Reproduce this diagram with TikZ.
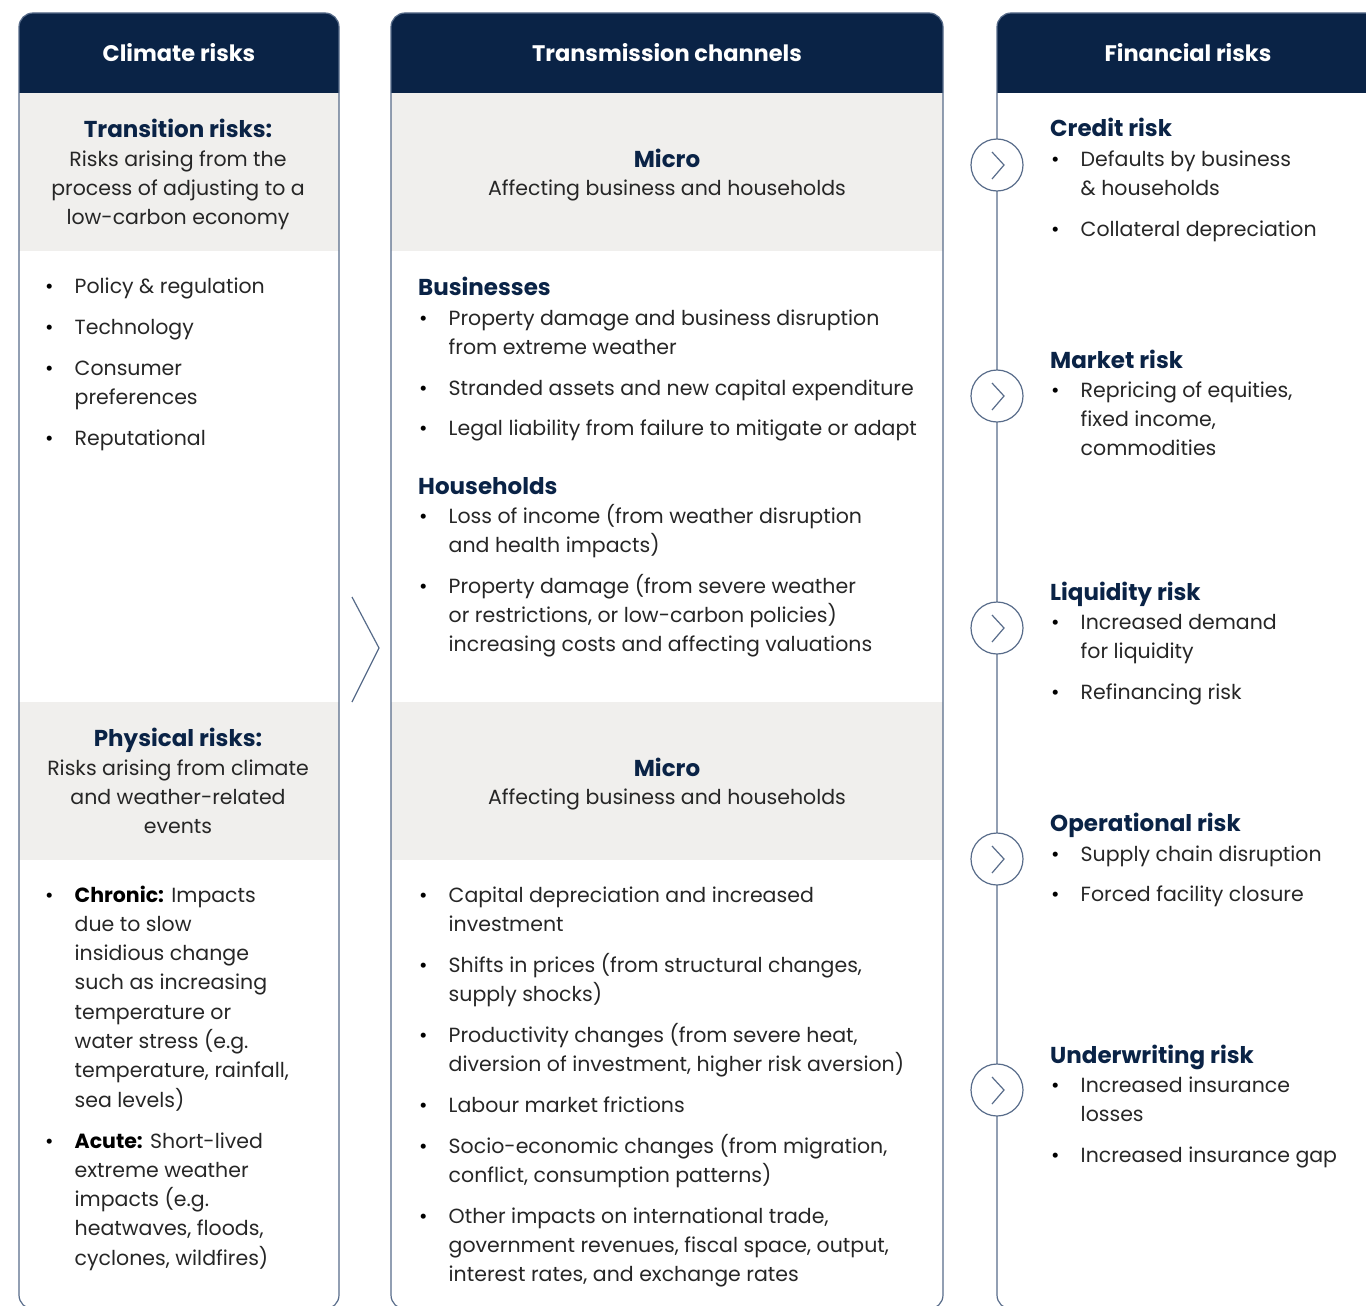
\documentclass[tikz,border=0pt]{standalone}
\usepackage{fontspec}
\setmainfont{Poppins}
\definecolor{navy}{RGB}{10,35,70}
\definecolor{edge}{RGB}{88,108,138}
\definecolor{band}{RGB}{240,239,237}
\definecolor{ink}{RGB}{38,38,38}
\newcommand\bodyfont{\fontsize{20.5}{29.3}\selectfont}
\newcommand\ttlfont{\fontsize{23}{28}\selectfont\bfseries}
\newcommand\hdrfont{\fontsize{22.5}{28}\selectfont\bfseries}
% multi-line blocks whose baseline is that of their first line
\newcommand\leftlines[1]{\parbox[t]{640pt}{\raggedright #1}}
\newcommand\midlines[1]{\parbox[t]{330pt}{\centering #1}}
\tikzset{
  hdr/.style={text=white, font=\hdrfont, inner sep=0},
  ttl/.style={text=navy, font=\ttlfont, inner sep=0, anchor=base},
  ttlw/.style={ttl, anchor=base west},
  dsc/.style={text=ink, font=\bodyfont, inner sep=0, anchor=base},
  itm/.style={text=ink, font=\bodyfont, inner sep=0, anchor=base west},
  dotst/.style={text=black, font=\bodyfont, inner sep=0, anchor=base west},
  frame/.style={draw=edge, line width=1.2pt},
  ring/.style={circle, draw=edge, line width=1.2pt, fill=white, minimum size=52pt, inner sep=0},
  chev/.style={draw=edge, line width=1.2pt},
}
% bullet item: name, bullet x, baseline y, text
\newcommand\bitem[4]{%
  \node[dotst] (#1b) at (#2,#3) {•};
  \node[itm] (#1) at (#2+29.5,#3) {\leftlines{#4}};}
\begin{document}
\begin{tikzpicture}[x=1pt,y=-1pt]
\useasboundingbox (0,0) rectangle (1366,1306);

% ---------- column frames ----------
\begin{scope}
  \clip[rounded corners=14] (19,13) rectangle (339,1309);
  \fill[navy] (0,0) rectangle (400,93);
  \fill[band] (0,93) rectangle (400,251);
  \fill[band] (0,702) rectangle (400,860);
\end{scope}
\draw[frame, rounded corners=14] (19,13) rectangle (339,1309);

\begin{scope}
  \clip[rounded corners=14] (391,13) rectangle (943,1309);
  \fill[navy] (380,0) rectangle (960,93);
  \fill[band] (380,93) rectangle (960,251);
  \fill[band] (380,702) rectangle (960,860);
\end{scope}
\draw[frame, rounded corners=14] (391,13) rectangle (943,1309);

\begin{scope}
  \clip[rounded corners=14] (997,13) rectangle (1400,1309);
  \fill[navy] (990,0) rectangle (1400,93);
\end{scope}
\draw[frame, rounded corners=14] (997,13) rectangle (1400,1309);

% ---------- column headers ----------
\node[hdr] (h1) at (179,53) {Climate risks};
\node[hdr] (h2) at (667,53) {Transmission channels};
\node[hdr] (h3) at (1188,53) {Financial risks};

% ---------- climate risks ----------
\node[ttl] (tr) at (178,137) {Transition risks:};
\node[dsc] (trd) at (178,166) {\midlines{Risks arising from the\\process of adjusting to a\\low-carbon economy}};
\bitem{c1}{45}{293}{Policy \& regulation}
\bitem{c2}{45}{334}{Technology}
\bitem{c3}{45}{375}{Consumer\\preferences}
\bitem{c4}{45}{445}{Reputational}

\node[ttl] (ph) at (178,746) {Physical risks:};
\node[dsc] (phd) at (178,775) {\midlines{Risks arising from climate\\and weather-related\\events}};
\bitem{c5}{45}{902}{\textbf{\color{black}Chronic:} Impacts\\due to slow\\insidious change\\such as increasing\\temperature or\\water stress (e.g.\\temperature, rainfall,\\sea levels)}
\bitem{c6}{45}{1148}{\textbf{\color{black}Acute:} Short-lived\\extreme weather\\impacts (e.g.\\heatwaves, floods,\\cyclones, wildfires)}

% ---------- transmission channels ----------
\node[ttl] (mi1) at (667,167) {Micro};
\node[dsc] (mi1d) at (667,195) {Affecting business and households};
\node[ttlw] (bus) at (418,295) {Businesses};
\bitem{m1}{419}{325}{Property damage and business disruption\\from extreme weather}
\bitem{m2}{419}{395}{Stranded assets and new capital expenditure}
\bitem{m3}{419}{435}{Legal liability from failure to mitigate or adapt}
\node[ttlw] (hh) at (418,494) {Households};
\bitem{m4}{419}{523}{Loss of income (from weather disruption\\and health impacts)}
\bitem{m5}{419}{593}{Property damage (from severe weather\\or restrictions, or low-carbon policies)\\increasing costs and affecting valuations}

\node[ttl] (mi2) at (667,776) {Micro};
\node[dsc] (mi2d) at (667,804) {Affecting business and households};
\bitem{m6}{419}{902}{Capital depreciation and increased\\investment}
\bitem{m7}{419}{972}{Shifts in prices (from structural changes,\\supply shocks)}
\bitem{m8}{419}{1042}{Productivity changes (from severe heat,\\diversion of investment, higher risk aversion)}
\bitem{m9}{419}{1112}{Labour market frictions}
\bitem{m10}{419}{1153}{Socio-economic changes (from migration,\\conflict, consumption patterns)}
\bitem{m11}{419}{1223}{Other impacts on international trade,\\government revenues, fiscal space, output,\\interest rates, and exchange rates}

% ---------- flow chevron between columns ----------
\coordinate (ca) at (352,597);
\coordinate (cb) at (379,648);
\coordinate (cc) at (352,702);
\draw[chev] (ca) -- (cb) -- (cc);

% ---------- financial risks ----------
\foreach \k/\yy in {1/165,2/396,3/628,4/859,5/1090}{
  \node[ring] (r\k) at (997,\yy) {};
  \draw[chev] ([shift={(-5,-13)}]r\k.center) -- ([shift={(7,0)}]r\k.center) -- ([shift={(-5,14)}]r\k.center);
}
\node[ttlw] (f1) at (1050,136) {Credit risk};
\bitem{f1a}{1051}{166}{Defaults by business\\\& households}
\bitem{f1b}{1051}{236}{Collateral depreciation}
\node[ttlw] (f2) at (1050,368) {Market risk};
\bitem{f2a}{1051}{397}{Repricing of equities,\\fixed income,\\commodities}
\node[ttlw] (f3) at (1050,600) {Liquidity risk};
\bitem{f3a}{1051}{629}{Increased demand\\for liquidity}
\bitem{f3b}{1051}{699}{Refinancing risk}
\node[ttlw] (f4) at (1050,831) {Operational risk};
\bitem{f4a}{1051}{861}{Supply chain disruption}
\bitem{f4b}{1051}{901}{Forced facility closure}
\node[ttlw] (f5) at (1050,1063) {Underwriting risk};
\bitem{f5a}{1051}{1092}{Increased insurance\\losses}
\bitem{f5b}{1051}{1162}{Increased insurance gap}
\end{tikzpicture}
\end{document}
